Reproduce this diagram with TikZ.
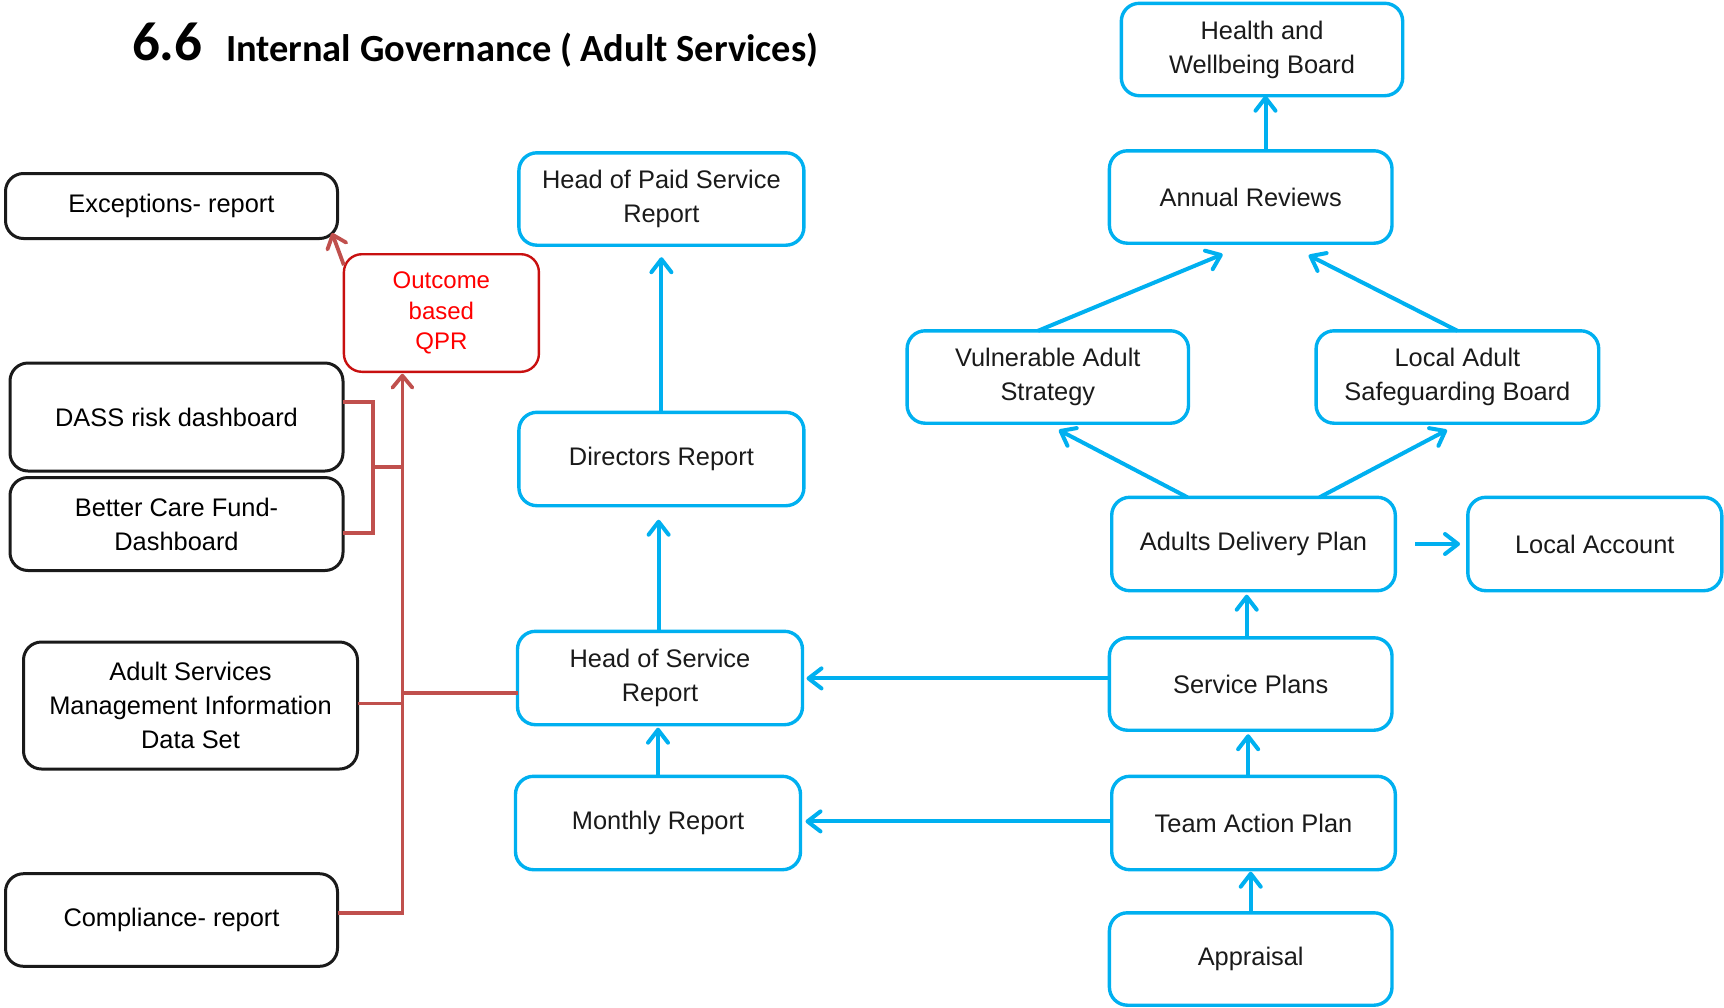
\documentclass[tikz,border=0pt]{standalone}
\usepackage{fontspec}
\setmainfont{Liberation Sans}
\newfontfamily\titlefont{Carlito}
\usetikzlibrary{arrows.meta}
\definecolor{flowblue}{RGB}{0,176,240}
\definecolor{linkred}{RGB}{192,80,77}
\definecolor{qprred}{RGB}{200,16,16}
\definecolor{inkgrey}{RGB}{26,26,26}

\begin{document}
\begin{tikzpicture}[x=0.5pt,y=-0.5pt,
  every node/.style={inner sep=0pt, outer sep=0pt},
  boxfont/.style={font=\fontsize{12.7}{17}\selectfont},
  bluebox/.style={draw=flowblue, line width=1.7pt, rounded corners=9pt,
    align=center, text=inkgrey, boxfont},
  blackbox/.style={draw=inkgrey, line width=1.5pt, rounded corners=9pt,
    align=center, text=black, boxfont},
  qprbox/.style={draw=qprred, line width=1.2pt, rounded corners=9pt,
    align=center, text=red, font=\fontsize{12}{15.4}\selectfont},
  sz/.style 2 args={minimum width=#1pt, minimum height=#2pt},
  barrow/.style={draw=flowblue, line width=2pt,
    -{Straight Barb[length=6.5pt,width=10pt,round]}},
  rlink/.style={draw=linkred, line width=1.9pt},
  rarrow/.style={rlink, -{Straight Barb[length=6pt,width=10pt,round]}},
]
\useasboundingbox (0,0) rectangle (1724,1007);

% heading
\node[anchor=base west, font=\titlefont\bfseries\fontsize{27.5}{30}\selectfont] (num) at (132,60) {6.6};
\node[anchor=base west, font=\titlefont\bfseries\fontsize{19.2}{22}\selectfont] (title) at (226,61) {Internal Governance ( Adult Services)};

% data sources (left)
\node[blackbox, sz={166}{32.5}]   (exc)  at (171.5,206)   {Exceptions- report};
\node[blackbox, sz={166.5}{54}]   (dass) at (176.5,417)   {DASS risk dashboard};
\node[blackbox, sz={166.5}{46.5}] (bcf)  at (176.5,524)   {Better Care Fund-\\Dashboard};
\node[blackbox, sz={167}{63.5}]   (mi)   at (190.5,705.5) {Adult Services\\Management Information\\Data Set};
\node[blackbox, sz={166}{46.3}]   (comp) at (171.5,920)   {Compliance- report};
\node[qprbox,   sz={97.5}{58.8}]  (qpr)  at (441.4,313)   {Outcome\\based\\QPR};

% reporting chain (middle)
\node[bluebox, sz={142.5}{46.2}] (hps) at (661.4,199) {Head of Paid Service\\Report};
\node[bluebox, sz={142.5}{46.7}] (dir) at (661.4,459) {Directors Report};
\node[bluebox, sz={142.5}{46.7}] (hos) at (660,678)   {Head of Service\\Report};
\node[bluebox, sz={142.5}{46.7}] (mon) at (658,823)   {Monthly Report};

% planning chain (right)
\node[bluebox, sz={140.7}{46.2}] (hwb)  at (1262,49.5)   {Health and\\Wellbeing Board};
\node[bluebox, sz={141.3}{46.2}] (ann)  at (1250.7,197)  {Annual Reviews};
\node[bluebox, sz={140.7}{46.2}] (vas)  at (1047.8,377)  {Vulnerable Adult\\Strategy};
\node[bluebox, sz={141.3}{46.2}] (lasb) at (1457.4,377)  {Local Adult\\Safeguarding Board};
\node[bluebox, sz={141.8}{46.7}] (adp)  at (1253.5,544)  {Adults Delivery Plan};
\node[bluebox, sz={127}{46.7}]   (lac)  at (1594.8,544)  {Local Account};
\node[bluebox, sz={141.3}{46.2}] (sp)   at (1250.7,684)  {Service Plans};
\node[bluebox, sz={141.8}{46.7}] (tap)  at (1253.5,823)  {Team Action Plan};
\node[bluebox, sz={141.3}{46.2}] (app)  at (1250.7,959)  {Appraisal};

% blue flow arrows
\draw[barrow] ([xshift=7.4pt]ann.north) -- ([xshift=7.4pt]ann.north |- hwb.south);
\draw[barrow] ([xshift=-4.9pt]vas.north) -- ([xshift=-14pt,yshift=-5.5pt]ann.south);
\draw[barrow] (lasb.north) -- ([xshift=29pt,yshift=-6pt]ann.south);
\draw[barrow] ([xshift=-33pt]adp.north) -- ([xshift=5.5pt,yshift=-3.4pt]vas.south);
\draw[barrow] ([xshift=33pt]adp.north) -- ([xshift=-5.2pt,yshift=-3.4pt]lasb.south);
\draw[barrow] ([xshift=9.9pt]adp.east) -- ([xshift=-3.9pt]lac.west);
\draw[barrow, shorten >=2pt] ([xshift=-2pt]sp.north) -- ([xshift=-2pt]sp.north |- adp.south);
\draw[barrow, shorten >=2pt] ([xshift=-2.7pt]tap.north) -- ([xshift=-2.7pt]tap.north |- sp.south);
\draw[barrow, shorten >=1pt] (app.north) -- (app.north |- tap.south);
\draw[barrow, shorten >=2pt] ([yshift=2.8pt]sp.west) -- ([yshift=2.8pt]sp.west -| hos.east);
\draw[barrow, shorten >=2.5pt] ([yshift=0.8pt]tap.west) -- ([yshift=0.8pt]tap.west -| mon.east);
\draw[barrow, shorten >=1.5pt] (mon.north) -- (mon.north |- hos.south);
\draw[barrow, shorten >=7pt] ([xshift=-0.7pt]hos.north) -- ([xshift=-0.7pt]hos.north |- dir.south);
\draw[barrow, shorten >=6pt] (dir.north) -- (dir.north |- hps.south);

% red collection lines into the QPR
\coordinate (trunk) at ([xshift=-19.5pt]qpr.south);
\coordinate (brk) at (373,467);
\draw[rarrow, shorten >=1pt] ([yshift=3.7pt]comp.east) -| (trunk);
\draw[rlink] ([yshift=1pt]mi.east) -- ([yshift=1pt]mi.east -| trunk);
\draw[rlink] ([yshift=-7.3pt]hos.west) -- ([yshift=-7.3pt]hos.west -| trunk);
\draw[rlink] ([yshift=7.5pt]dass.east) -| (brk) -- (brk -| trunk);
\draw[rlink] ([yshift=-4.5pt]bcf.east) -| (brk);
\draw[rarrow] ([yshift=-5.5pt]qpr.north west) -- ([xshift=-2.75pt,yshift=2.75pt]exc.south east);
\end{tikzpicture}
\end{document}
